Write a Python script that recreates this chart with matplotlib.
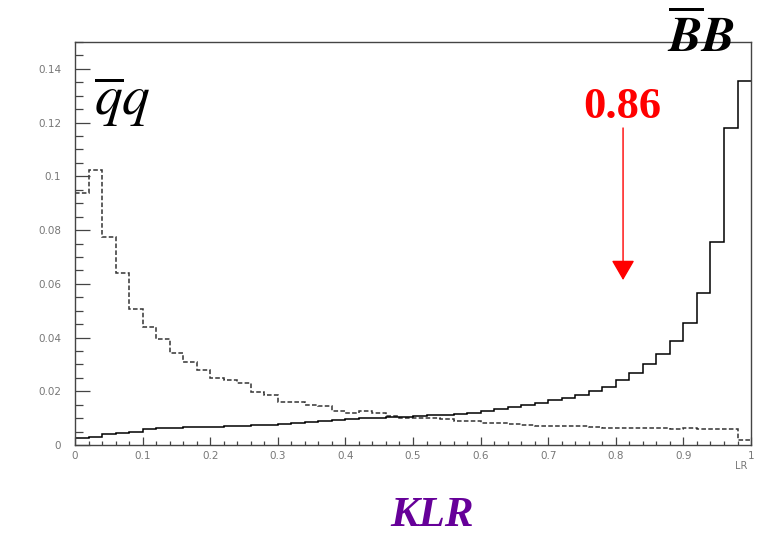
import numpy as np
import matplotlib
matplotlib.use("Agg")
import matplotlib.pyplot as plt
from matplotlib.ticker import FixedLocator, MultipleLocator

plt.rcParams['mathtext.fontset'] = 'stix'

# -----------------------------
# Datos (50 bins de 0.02 en LR)
# -----------------------------
bin_edges = np.linspace(0.0, 1.0, 51)

qq_values = [0.0939, 0.1023, 0.0773, 0.0641, 0.0505, 0.0440, 0.0393, 0.0341, 0.0310, 0.0279,
             0.0250, 0.0242, 0.0230, 0.0196, 0.0186, 0.0161, 0.0161, 0.0148, 0.0145, 0.0127,
             0.0120, 0.0125, 0.0118, 0.0109, 0.0102, 0.0099, 0.0099, 0.0097, 0.0090, 0.0088,
             0.0083, 0.0081, 0.0078, 0.0073, 0.0070, 0.0071, 0.0071, 0.0070, 0.0068, 0.0063,
             0.0062, 0.0062, 0.0063, 0.0062, 0.0061, 0.0062, 0.0061, 0.0061, 0.0060, 0.0019]

bb_values = [0.0025, 0.0030, 0.0042, 0.0046, 0.0050, 0.0060, 0.0062, 0.0063, 0.0067, 0.0067,
             0.0068, 0.0069, 0.0071, 0.0073, 0.0076, 0.0078, 0.0083, 0.0087, 0.0090, 0.0093,
             0.0097, 0.0099, 0.0102, 0.0104, 0.0105, 0.0107, 0.0110, 0.0113, 0.0117, 0.0120,
             0.0128, 0.0134, 0.0143, 0.0149, 0.0157, 0.0166, 0.0174, 0.0186, 0.0201, 0.0217,
             0.0242, 0.0267, 0.0300, 0.0339, 0.0387, 0.0453, 0.0567, 0.0757, 0.1180, 0.1356]

x_ticks = [0.0, 0.1, 0.2, 0.3, 0.4, 0.5, 0.6, 0.7, 0.8, 0.9, 1.0]
x_tick_labels = ["0", "0.1", "0.2", "0.3", "0.4", "0.5", "0.6", "0.7", "0.8", "0.9", "1"]
y_ticks = [0.0, 0.02, 0.04, 0.06, 0.08, 0.10, 0.12, 0.14]
y_tick_labels = ["0", "0.02", "0.04", "0.06", "0.08", "0.1", "0.12", "0.14"]

corte_x = 0.8107       # posición dibujada de la flecha
corte_label = "0.86"

# -----------------------------
# Figura
# -----------------------------
fig = plt.figure(figsize=(7.59, 5.37), dpi=100)
ax = fig.add_axes([0.0988, 0.1713, 0.8907, 0.7505])

ax.stairs(qq_values, bin_edges, color="#333333", linewidth=1.1,
          linestyle=(0, (3, 1.5)), baseline=None)
ax.stairs(bb_values, bin_edges, color="black", linewidth=1.1, baseline=None)

ax.set_xlim(0, 1)
ax.set_ylim(0, 0.15)

ax.xaxis.set_major_locator(FixedLocator(x_ticks))
ax.set_xticklabels(x_tick_labels)
ax.xaxis.set_minor_locator(MultipleLocator(0.02))
ax.yaxis.set_major_locator(FixedLocator(y_ticks))
ax.set_yticklabels(y_tick_labels)
ax.yaxis.set_minor_locator(MultipleLocator(0.005))

ax.tick_params(axis="both", which="both", direction="in", colors="#444444",
               labelcolor="#777777", labelsize=7.5, width=0.9)
ax.tick_params(axis="x", which="major", length=6, pad=4)
ax.tick_params(axis="x", which="minor", length=3)
ax.tick_params(axis="y", which="major", length=11, pad=10)
ax.tick_params(axis="y", which="minor", length=6)
for s in ax.spines.values():
    s.set_color("#444444")
    s.set_linewidth(1.0)

ax.text(0.995, -0.04, "LR", transform=ax.transAxes, ha="right", va="top",
        fontsize=7, color="#777777")

# flecha de corte
ax.annotate("", xy=(corte_x, 0.0614), xytext=(corte_x, 0.118),
            arrowprops=dict(arrowstyle="-|>,head_length=0.62,head_width=0.36",
                            color="red", lw=1.0, mutation_scale=20,
                            shrinkA=0, shrinkB=0))
fig.text(622 / 759, 1 - 118 / 537, corte_label, ha="center", va="baseline",
         fontsize=32, fontweight="bold", color="red", family="Liberation Serif")

# etiquetas de las muestras
fig.text(94 / 759, 1 - 115 / 537, r"$\overline{q}q$", ha="left", va="baseline",
         fontsize=40, color="black")
fig.text(667 / 759, 1 - 52 / 537, r"$\overline{\mathbfit{B}}\mathbfit{B}$",
         ha="left", va="baseline", fontsize=36, color="black")

fig.text(432 / 759, 1 - 526 / 537, "KLR", ha="center", va="baseline",
         fontsize=31, fontweight="bold", fontstyle="italic", color="#660099",
         family="Liberation Serif")

fig.savefig("out.png", dpi=100)
